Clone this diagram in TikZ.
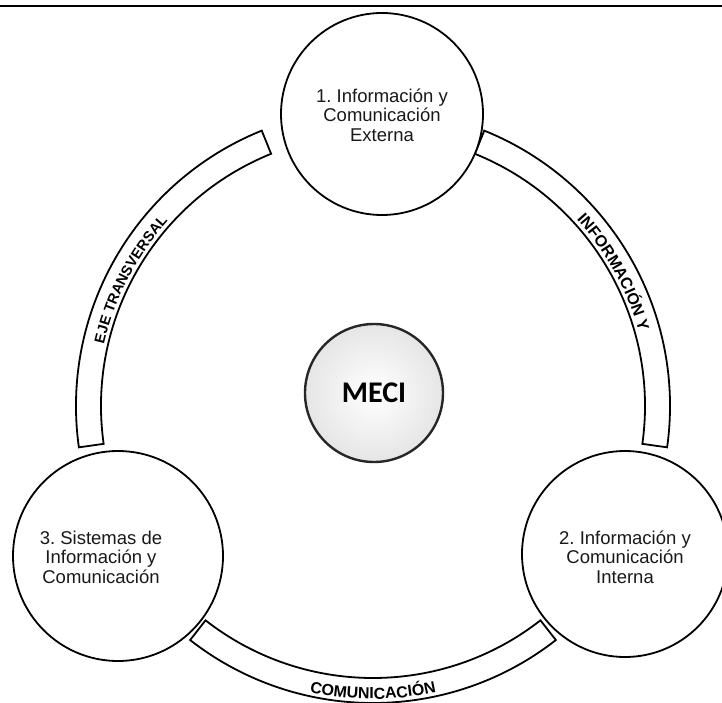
\documentclass[tikz,border=0pt]{standalone}
\usepackage{fontspec}
\setmainfont{Liberation Sans}
\newfontfamily\mecifont{Carlito}
\usetikzlibrary{decorations.text}
\frenchspacing
\newcommand{\bandfnt}{\bfseries\fontsize{16}{16}\selectfont}
\newcommand{\bandfntb}{\bfseries\fontsize{14.5}{14.5}\selectfont}
\begin{document}
\begin{tikzpicture}[x=1pt,y=1pt,
  bub/.style={circle, draw=black, line width=1.8pt, fill=white, inner sep=0pt},
  lbl/.style={align=center, font=\fontsize{18.5}{19.5}\selectfont, text=black!90},
  band/.style={draw=black, line width=1.8pt, fill=white},
  bandtext/.style={decorate, decoration={text along path, text align=center, text={#1}}}]
\useasboundingbox (-373,-296) rectangle (349,406);
\coordinate (O) at (0,0);
% top rule
\coordinate (tl) at (-373,400);
\coordinate (tr) at (349,400);
\draw[line width=2.5pt] (tl) -- (tr);
% band segments
\draw[band] (68:297) arc (68:-8:297) -- (-8:272) arc (-8:68:272) -- cycle;
\draw[band] (-52:297) arc (-52:-128:297) -- (-128:272) arc (-128:-52:272) -- cycle;
\draw[band] (188:297) arc (188:112:297) -- (112:272) arc (112:188:272) -- cycle;
% band texts
\path[bandtext={|\bandfnt|INFORMACIÓN Y}] (44:276) arc (44:14:276);
\path[bandtext={|\bandfntb|EJE TRANSVERSAL}] (167:276) arc (167:138:276);
\path[bandtext={|\bandfnt|COMUNICACIÓN}] (-104:293) arc (-104:-76:293);
% circles
\node[bub, minimum size=202pt] (c1) at (9,292) {};
\node[bub, minimum size=206pt] (c2) at (252,-148) {};
\node[bub, minimum size=210pt] (c3) at (-255,-150) {};
\node[lbl] (t1) at (9,291) {1. Información y\\Comunicación\\Externa};
\node[lbl] (t2) at (252,-151) {2. Información y\\Comunicación\\Interna};
\node[lbl] (t3) at (-272,-151) {3. Sistemas de\\Información y\\Comunicación};
% MECI
\node[circle, minimum size=138pt, inner sep=0pt, draw=black!85, line width=2.4pt,
      inner color=white, outer color=black!10] (meci) at (1,13) {};
\node[font=\mecifont\bfseries\fontsize{30}{30}\selectfont] (mt) at (meci.center) {MECI};
\end{tikzpicture}
\end{document}
